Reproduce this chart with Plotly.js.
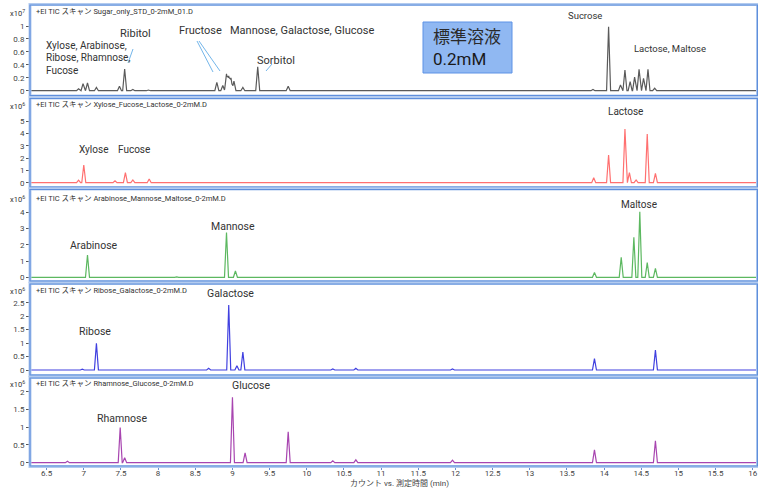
<!DOCTYPE html>
<html>
<head>
<meta charset="utf-8">
<script src="https://cdn.plot.ly/plotly-3.0.1.min.js"></script>
<style>html,body{margin:0;padding:0;background:#fff;}#chart{width:758px;height:488px;}</style>
</head>
<body>
<div id="chart"></div>
<script>
// ---- Data (retention time in min, peak height) ----
// Panel 1: Sugar standard mix (x10^7 counts)
const stdTimes   = [6.77, 6.93, 6.99, 7.05, 7.17, 7.48, 7.55, 7.66, 7.87, 8.22, 8.47, 8.79, 8.87, 8.92, 8.95, 8.98, 9.02, 9.14, 9.34, 9.75, 13.85, 14.06, 14.22, 14.28, 14.35, 14.41, 14.47, 14.53, 14.59, 14.68];
const stdHeights = [0.01, 0.03, 0.11, 0.12, 0.05, 0.07, 0.335, 0.02, 0.01, 0.01, 0.01, 0.13, 0.08, 0.26, 0.23, 0.20, 0.15, 0.05, 0.37, 0.07, 0.02, 0.99, 0.09, 0.32, 0.14, 0.21, 0.33, 0.19, 0.33, 0.04];
// Panel 2: Xylose / Fucose / Lactose (x10^6)
const xflTimes   = [6.93, 7.00, 7.42, 7.56, 7.66, 7.88, 11.95, 13.86, 14.06, 14.28, 14.34, 14.43, 14.58, 14.69];
const xflHeights = [0.20, 1.44, 0.16, 0.81, 0.22, 0.30, 0.05, 0.40, 2.25, 4.37, 0.81, 0.22, 3.96, 0.76];
// Panel 3: Arabinose / Mannose / Maltose (x10^6)
const ammTimes   = [7.05, 8.25, 8.92, 9.04, 10.66, 11.95, 13.87, 14.23, 14.40, 14.48, 14.58, 14.69];
const ammHeights = [1.37, 0.03, 2.75, 0.39, 0.04, 0.04, 0.29, 1.23, 2.46, 4.04, 0.90, 0.55];
// Panel 4: Ribose / Galactose (x10^6)
const rgTimes    = [6.98, 7.17, 8.68, 8.95, 9.06, 9.14, 10.35, 10.66, 11.96, 13.87, 14.05, 14.69];
const rgHeights  = [0.03, 0.99, 0.06, 2.42, 0.16, 0.67, 0.04, 0.06, 0.04, 0.42, 0.02, 0.74];
// Panel 5: Rhamnose / Glucose (x10^6)
const rhgTimes   = [6.78, 7.49, 7.55, 9.00, 9.17, 9.75, 10.35, 10.66, 11.96, 13.87, 14.69];
const rhgHeights = [0.04, 0.99, 0.14, 1.84, 0.28, 0.87, 0.05, 0.08, 0.07, 0.36, 0.62];

const panelHeaders = [
  "+EI TIC スキャン Sugar_only_STD_0-2mM_01.D",
  "+EI TIC スキャン Xylose_Fucose_Lactose_0-2mM.D",
  "+EI TIC スキャン Arabinose_Mannose_Maltose_0-2mM.D",
  "+EI TIC スキャン Ribose_Galactose_0-2mM.D",
  "+EI TIC スキャン Rhamnose_Glucose_0-2mM.D"
];
const panelExponents = ["7", "6", "6", "6", "6"];
const yTickVals = [
  [0, 0.2, 0.4, 0.6, 0.8, 1],
  [0, 1, 2, 3, 4, 5],
  [0, 1, 2, 3, 4],
  [0, 0.5, 1, 1.5, 2, 2.5],
  [0, 0.5, 1, 1.5, 2]
];
const xTickVals = [6.5, 7, 7.5, 8, 8.5, 9, 9.5, 10, 10.5, 11, 11.5, 12, 12.5, 13, 13.5, 14, 14.5, 15, 15.5, 16];
const xTitle = "カウント vs. 測定時間 (min)";

// ---- Layout geometry (pixels) ----
const L = 31, R = 0, T = 4, B = 22, W = 758, H = 488;
const PW = W - L - R, PH = H - T - B;
const X = px => (px - L) / PW;
const Y = py => (H - B - py) / PH;
const xRange = [6.29, 16.07];
// panel pixel extents [top, bottom], zero pixel, pixels per unit
const panels = [
  {top: 5,     bot: 95.5, zero: 90.7,  ppu: 64.7},
  {top: 98.5,  bot: 187,  zero: 182.7, ppu: 12.3},
  {top: 189.5, bot: 281,  zero: 277.3, ppu: 16.25},
  {top: 284,   bot: 375,  zero: 370,   ppu: 26.9},
  {top: 378,   bot: 466,  zero: 462.7, ppu: 35.5}
];
const colors = ["#5a5a5a", "#ff7070", "#5cb860", "#4040e0", "#a845b0"];
const FONT = "Roboto, 'Noto Sans CJK JP', sans-serif";

// Build chromatogram polyline: each peak drawn as a narrow triangle, envelope of overlaps
function trace(times, heights, hw) {
  const pts = [xRange[0], xRange[1]];
  times.forEach(t => { pts.push(t - hw, t, t + hw); });
  pts.sort((a, b) => a - b);
  const ys = pts.map(x => {
    let v = 0;
    times.forEach((t, i) => {
      const d = Math.abs(x - t);
      if (d < hw) v = Math.max(v, heights[i] * (1 - d / hw));
    });
    return v;
  });
  return {x: pts, y: ys};
}

const series = [
  [stdTimes, stdHeights], [xflTimes, xflHeights], [ammTimes, ammHeights],
  [rgTimes, rgHeights], [rhgTimes, rhgHeights]
];

const data = series.map((s, i) => {
  const tr = trace(s[0], s[1], 0.027);
  return {
    x: tr.x, y: tr.y, type: "scatter", mode: "lines",
    line: {color: colors[i], width: 1.2},
    xaxis: "x", yaxis: i === 0 ? "y" : "y" + (i + 1),
    hoverinfo: "skip", showlegend: false
  };
});

const layout = {
  width: W, height: H,
  margin: {l: L, r: R, t: T, b: B},
  paper_bgcolor: "#ffffff", plot_bgcolor: "#ffffff",
  font: {family: FONT, color: "#333"},
  showlegend: false,
  xaxis: {
    range: xRange, anchor: "y5", tickvals: xTickVals,
    ticktext: xTickVals.map(v => String(v)),
    tickfont: {size: 8, color: "#444"},
    ticks: "outside", ticklen: 2, tickcolor: "#6a8fd0",
    ticklabelstandoff: -4,
    showline: true, linecolor: "#5a86d4", linewidth: 2,
    showgrid: false, zeroline: false, fixedrange: true
  },
  shapes: [], annotations: []
};

panels.forEach((p, i) => {
  const key = i === 0 ? "yaxis" : "yaxis" + (i + 1);
  layout[key] = {
    domain: [Y(p.bot), Y(p.top)],
    range: [-(p.bot - p.zero) / p.ppu, (p.zero - p.top) / p.ppu],
    anchor: "x", tickvals: yTickVals[i],
    ticktext: yTickVals[i].map(v => String(v)),
    tickfont: {size: 8, color: "#444"},
    ticks: "outside", ticklen: 3, tickcolor: "#555",
    showline: true, linecolor: "#3f68bd", linewidth: 2,
    showgrid: false, zeroline: false, fixedrange: true
  };
  // panel frame
  layout.shapes.push({type: "rect", xref: "paper", yref: "paper",
    x0: X(30), x1: X(757.5), y0: Y(p.bot + 0.5), y1: Y(p.top - 0.5),
    line: {color: "#b3cbef", width: 3}, layer: "above"});
  layout.shapes.push({type: "rect", xref: "paper", yref: "paper",
    x0: X(30), x1: X(757.5), y0: Y(p.bot), y1: Y(p.top),
    line: {color: "#5f8fdc", width: 1.2}, layer: "above"});
  // header text
  const hy = [12, 105, 198, 290, 383][i];
  layout.annotations.push({xref: "paper", yref: "paper", x: X(34), y: Y(hy),
    xanchor: "left", yanchor: "middle", showarrow: false,
    text: panelHeaders[i], font: {size: 7.5, color: "#333", family: FONT}});
  layout.annotations.push({xref: "paper", yref: "paper", x: X(27), y: Y(hy + 1),
    xanchor: "right", yanchor: "middle", showarrow: false,
    text: "x10<sup>" + panelExponents[i] + "</sup>", font: {size: 7.5, color: "#333", family: FONT}});
});

// peak labels [text, x px, y px, anchor, size]
const labels = [
  ["Ribitol", 135, 33, "center", 11],
  ["Xylose, Arabinose,", 44, 45, "left", 10],
  ["Ribose, Rhamnose,", 44, 57.5, "left", 10],
  ["Fucose", 44, 70, "left", 10],
  ["Fructose", 177, 31, "left", 11],
  ["Mannose, Galactose, Glucose", 228, 31, "left", 11],
  ["Sorbitol", 276, 60, "center", 11],
  ["Sucrose", 585, 15, "center", 9.5],
  ["Lactose, Maltose", 670, 48, "center", 9.5],
  ["Xylose", 93, 149, "center", 10],
  ["Fucose", 134, 149, "center", 10],
  ["Lactose", 625, 112, "center", 10],
  ["Arabinose", 94, 245, "center", 10.5],
  ["Mannose", 233, 226, "center", 10.5],
  ["Maltose", 639, 204, "center", 10],
  ["Ribose", 95, 331, "center", 10.5],
  ["Galactose", 230, 293, "center", 10.5],
  ["Rhamnose", 122, 418, "center", 10.5],
  ["Glucose", 251, 385, "center", 10.5]
];
labels.forEach(l => {
  layout.annotations.push({xref: "paper", yref: "paper", x: X(l[1]), y: Y(l[2]),
    xanchor: l[3], yanchor: "middle", showarrow: false, text: l[0],
    font: {size: l[4], color: "#333", family: FONT}});
});

// callout lines
const callouts = [[133, 49, 128, 63], [197, 41, 213, 72], [199, 41, 220, 71], [272, 64, 266, 71]];
callouts.forEach(c => {
  layout.shapes.push({type: "line", xref: "paper", yref: "paper",
    x0: X(c[0]), y0: Y(c[1]), x1: X(c[2]), y1: Y(c[3]),
    line: {color: "#74b6ea", width: 1}});
});

// blue box
layout.shapes.push({type: "rect", xref: "paper", yref: "paper",
  x0: X(423), x1: X(512), y0: Y(73), y1: Y(22),
  fillcolor: "#90b8f2", line: {color: "#5d92e6", width: 1}});
layout.annotations.push({xref: "paper", yref: "paper", x: X(431), y: Y(35),
  xanchor: "left", yanchor: "middle", showarrow: false, text: "標準溶液",
  font: {size: 17, color: "#2a2a2a", family: "'Noto Sans CJK JP', sans-serif"}});
layout.annotations.push({xref: "paper", yref: "paper", x: X(431), y: Y(59),
  xanchor: "left", yanchor: "middle", showarrow: false, text: "0.2mM",
  font: {size: 17, color: "#1a1a1a", family: FONT}});

// x axis title
layout.annotations.push({xref: "paper", yref: "paper", x: X(399), y: Y(483),
  xanchor: "center", yanchor: "middle", showarrow: false, text: xTitle,
  font: {size: 8, color: "#444", family: FONT}});

Plotly.newPlot("chart", data, layout, {displayModeBar: false, staticPlot: true});
</script>
</body>
</html>
